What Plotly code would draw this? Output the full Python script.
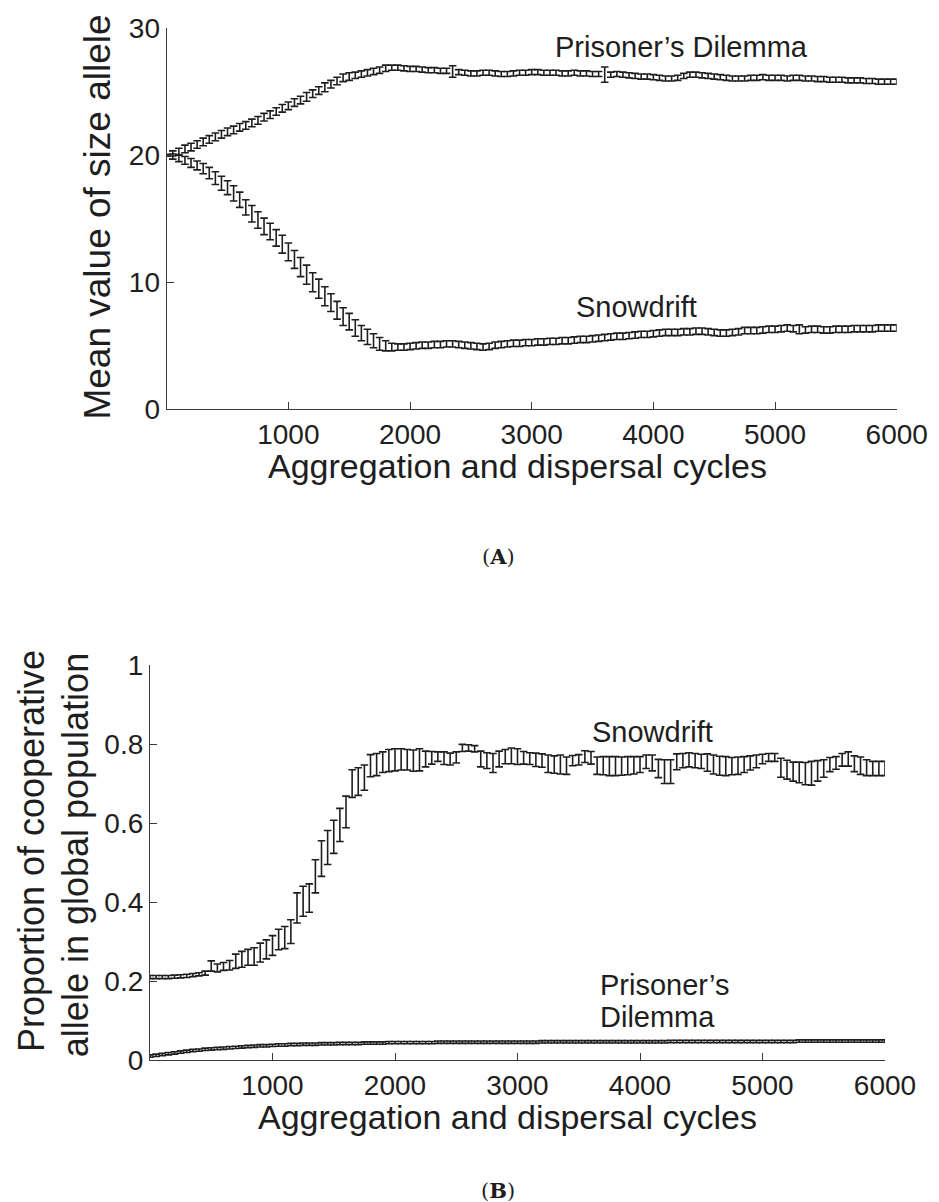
import plotly.graph_objects as go

# Sampling points (aggregation and dispersal cycles)
cycles = list(range(0, 6001, 50))

# Panel A: mean value of the size allele
size_pd = [
    20.0, 20.15, 20.3, 20.5, 20.65, 20.85, 21.05, 21.25, 21.45, 21.65,
    21.85, 22.0, 22.2, 22.35, 22.55, 22.75, 23.0, 23.2, 23.45, 23.7,
    23.9, 24.15, 24.35, 24.6, 24.85, 25.1, 25.35, 25.6, 25.85, 26.1,
    26.2, 26.3, 26.4, 26.5, 26.6, 26.7, 26.85, 26.9, 26.9, 26.85,
    26.8, 26.8, 26.75, 26.7, 26.7, 26.65, 26.65, 26.6, 26.55, 26.5,
    26.45, 26.45, 26.5, 26.5, 26.45, 26.4, 26.4, 26.45, 26.5, 26.5,
    26.55, 26.55, 26.5, 26.5, 26.5, 26.45, 26.45, 26.5, 26.45, 26.45,
    26.4, 26.4, 26.35, 26.35, 26.4, 26.35, 26.3, 26.25, 26.2, 26.2,
    26.15, 26.1, 26.05, 26.05, 26.1, 26.25, 26.35, 26.35, 26.3, 26.25,
    26.2, 26.15, 26.1, 26.05, 26.05, 26.05, 26.1, 26.1, 26.15, 26.1,
    26.1, 26.1, 26.05, 26.1, 26.1, 26.05, 26.05, 26.0, 26.0, 25.95,
    25.95, 25.95, 25.9, 25.9, 25.9, 25.85, 25.85, 25.8, 25.8, 25.8,
    25.8,
]
size_pd_err = [
    0.05, 0.2, 0.25, 0.3, 0.3, 0.3, 0.3, 0.3, 0.3, 0.3,
    0.3, 0.3, 0.3, 0.3, 0.3, 0.3, 0.3, 0.3, 0.3, 0.3,
    0.3, 0.3, 0.3, 0.35, 0.3, 0.3, 0.35, 0.3, 0.3, 0.3,
    0.3, 0.25, 0.25, 0.25, 0.25, 0.25, 0.25, 0.2, 0.2, 0.2,
    0.2, 0.2, 0.2, 0.2, 0.2, 0.2, 0.2, 0.45, 0.2, 0.2,
    0.2, 0.2, 0.2, 0.2, 0.2, 0.2, 0.2, 0.2, 0.2, 0.2,
    0.2, 0.2, 0.2, 0.2, 0.2, 0.2, 0.2, 0.2, 0.2, 0.2,
    0.2, 0.2, 0.6, 0.2, 0.2, 0.2, 0.2, 0.2, 0.2, 0.2,
    0.2, 0.2, 0.2, 0.2, 0.2, 0.2, 0.2, 0.2, 0.2, 0.2,
    0.2, 0.2, 0.2, 0.2, 0.2, 0.2, 0.2, 0.2, 0.2, 0.2,
    0.2, 0.2, 0.2, 0.2, 0.2, 0.2, 0.2, 0.2, 0.2, 0.2,
    0.2, 0.2, 0.2, 0.2, 0.2, 0.2, 0.2, 0.2, 0.2, 0.2,
    0.2,
]
size_sd = [
    20.0, 19.9, 19.75, 19.6, 19.4, 19.2, 18.95, 18.6, 18.2, 17.8,
    17.45, 17.0, 16.5, 15.9, 15.4, 14.9, 14.4, 14.0, 13.5, 13.0,
    12.4, 11.8, 11.2, 10.6, 10.0, 9.5, 8.9, 8.4, 7.8, 7.3,
    6.9, 6.4, 6.0, 5.7, 5.4, 5.15, 5.0, 4.9, 4.9, 4.9,
    4.95, 5.0, 5.05, 5.05, 5.1, 5.1, 5.15, 5.15, 5.1, 5.05,
    5.0, 4.95, 4.9, 4.95, 5.05, 5.1, 5.15, 5.2, 5.2, 5.25,
    5.25, 5.3, 5.3, 5.35, 5.35, 5.4, 5.4, 5.45, 5.5, 5.5,
    5.55, 5.6, 5.65, 5.7, 5.75, 5.75, 5.8, 5.85, 5.9, 5.9,
    5.95, 6.0, 6.05, 6.05, 6.05, 6.1, 6.1, 6.15, 6.15, 6.1,
    6.05, 6.0, 6.0, 6.05, 6.1, 6.2, 6.2, 6.2, 6.25, 6.3,
    6.3, 6.35, 6.4, 6.35, 6.3, 6.25, 6.3, 6.3, 6.25, 6.25,
    6.3, 6.3, 6.3, 6.35, 6.35, 6.35, 6.35, 6.4, 6.4, 6.4,
    6.4,
]
size_sd_err = [
    0.05, 0.2, 0.25, 0.3, 0.35, 0.35, 0.4, 0.45, 0.5, 0.55,
    0.55, 0.6, 0.6, 0.6, 0.65, 0.65, 0.65, 0.65, 0.65, 0.7,
    0.7, 0.7, 0.75, 0.75, 0.75, 0.75, 0.75, 0.7, 0.7, 0.7,
    0.65, 0.65, 0.6, 0.6, 0.55, 0.5, 0.4, 0.3, 0.25, 0.25,
    0.25, 0.25, 0.25, 0.25, 0.25, 0.25, 0.25, 0.25, 0.25, 0.25,
    0.25, 0.25, 0.25, 0.25, 0.25, 0.25, 0.25, 0.25, 0.25, 0.25,
    0.25, 0.25, 0.25, 0.25, 0.25, 0.25, 0.25, 0.25, 0.25, 0.25,
    0.25, 0.25, 0.25, 0.25, 0.25, 0.25, 0.25, 0.25, 0.25, 0.25,
    0.25, 0.25, 0.25, 0.25, 0.25, 0.25, 0.25, 0.25, 0.25, 0.25,
    0.25, 0.25, 0.25, 0.25, 0.25, 0.25, 0.25, 0.25, 0.25, 0.25,
    0.25, 0.25, 0.25, 0.25, 0.35, 0.25, 0.25, 0.25, 0.25, 0.25,
    0.25, 0.25, 0.25, 0.25, 0.25, 0.25, 0.25, 0.25, 0.25, 0.25,
    0.25,
]

# Panel B: proportion of the cooperative allele in the global population
coop_sd = [
    0.21, 0.21, 0.21, 0.21, 0.211, 0.212, 0.213, 0.215, 0.217, 0.22,
    0.238, 0.233, 0.237, 0.24, 0.25, 0.255, 0.26, 0.262, 0.272, 0.28,
    0.29, 0.305, 0.31, 0.325, 0.385, 0.402, 0.41, 0.465, 0.51, 0.538,
    0.565, 0.595, 0.628, 0.7, 0.705, 0.715, 0.745, 0.748, 0.754, 0.758,
    0.76, 0.761, 0.76, 0.758, 0.76, 0.762, 0.765, 0.768, 0.764, 0.762,
    0.766, 0.79, 0.79, 0.788, 0.762, 0.758, 0.752, 0.762, 0.768, 0.77,
    0.768, 0.765, 0.763, 0.76, 0.758, 0.75, 0.748, 0.748, 0.745, 0.758,
    0.76, 0.768, 0.765, 0.745, 0.745, 0.744, 0.744, 0.744, 0.745, 0.746,
    0.748, 0.755, 0.752, 0.738, 0.73, 0.73, 0.755, 0.758, 0.76, 0.758,
    0.756, 0.753, 0.748, 0.745, 0.744, 0.744, 0.745, 0.748, 0.752, 0.756,
    0.762, 0.766, 0.766, 0.74, 0.735, 0.73, 0.728, 0.725, 0.726, 0.732,
    0.738, 0.748, 0.752, 0.76, 0.762, 0.75, 0.745, 0.74, 0.738, 0.738,
    0.738,
]
coop_sd_err = [
    0.004, 0.004, 0.004, 0.004, 0.004, 0.004, 0.004, 0.004, 0.004, 0.005,
    0.013, 0.01, 0.01, 0.012, 0.018, 0.02, 0.02, 0.022, 0.024, 0.024,
    0.025, 0.026, 0.028, 0.03, 0.038, 0.038, 0.036, 0.042, 0.045, 0.043,
    0.042, 0.042, 0.04, 0.035, 0.035, 0.032, 0.028, 0.028, 0.026, 0.028,
    0.028, 0.027, 0.026, 0.027, 0.028, 0.02, 0.016, 0.012, 0.016, 0.015,
    0.014, 0.009, 0.008, 0.008, 0.02, 0.02, 0.024, 0.02, 0.018, 0.02,
    0.02, 0.016, 0.015, 0.017, 0.017, 0.022, 0.022, 0.024, 0.022, 0.013,
    0.013, 0.015, 0.016, 0.022, 0.023, 0.024, 0.024, 0.023, 0.023, 0.022,
    0.02, 0.017, 0.02, 0.023, 0.03, 0.03, 0.02, 0.018, 0.018, 0.018,
    0.018, 0.022, 0.024, 0.024, 0.024, 0.022, 0.022, 0.02, 0.018, 0.016,
    0.012, 0.01, 0.01, 0.024, 0.024, 0.024, 0.026, 0.028, 0.03, 0.026,
    0.022, 0.018, 0.016, 0.016, 0.018, 0.02, 0.022, 0.02, 0.018, 0.018,
    0.018,
]
coop_pd = [
    0.010, 0.012, 0.014, 0.016, 0.018, 0.020, 0.022, 0.024, 0.025, 0.027,
    0.028, 0.029, 0.030, 0.031, 0.032, 0.033, 0.034, 0.035, 0.036, 0.036,
    0.037, 0.038, 0.038, 0.039, 0.039, 0.040, 0.040, 0.040, 0.041, 0.041,
    0.041, 0.042, 0.042, 0.042, 0.042, 0.043, 0.043, 0.043, 0.043, 0.044,
    0.044, 0.044, 0.044, 0.044, 0.044, 0.044, 0.044, 0.045, 0.045, 0.045,
    0.045, 0.045, 0.045, 0.045, 0.045, 0.045, 0.045, 0.045, 0.045, 0.045,
    0.045, 0.045, 0.045, 0.045, 0.046, 0.046, 0.046, 0.046, 0.046, 0.046,
    0.046, 0.046, 0.046, 0.046, 0.046, 0.046, 0.046, 0.046, 0.046, 0.046,
    0.046, 0.046, 0.046, 0.046, 0.046, 0.047, 0.047, 0.047, 0.047, 0.047,
    0.047, 0.047, 0.047, 0.047, 0.047, 0.047, 0.047, 0.047, 0.047, 0.047,
    0.047, 0.047, 0.047, 0.047, 0.047, 0.047, 0.048, 0.048, 0.048, 0.048,
    0.048, 0.048, 0.048, 0.048, 0.048, 0.048, 0.048, 0.048, 0.048, 0.048,
    0.048,
]
coop_pd_err = [0.003] * len(cycles)

assert all(len(s) == len(cycles) for s in
           (size_pd, size_pd_err, size_sd, size_sd_err,
            coop_sd, coop_sd_err, coop_pd, coop_pd_err))

size_ticks = [0, 10, 20, 30]
coop_ticks = [0, 0.2, 0.4, 0.6, 0.8, 1]
coop_tick_text = ["0", "0.2", "0.4", "0.6", "0.8", "1"]
cycle_ticks = [1000, 2000, 3000, 4000, 5000, 6000]

W, H = 939, 1202
INK = "#1e1e1e"
AXIS = "#3a3a3a"
SANS = "Liberation Sans, Arial, Helvetica, sans-serif"


def px_x(p):
    return p / W


def px_y(p):
    return 1 - p / H


def errorbar_trace(x, y, err, xa, ya):
    return go.Scatter(
        x=x, y=y, mode="markers", xaxis=xa, yaxis=ya,
        marker=dict(size=1, color="rgba(0,0,0,0)"),
        error_y=dict(type="data", array=err, visible=True,
                     color=INK, thickness=1.6, width=3.8),
        showlegend=False, hoverinfo="skip",
    )


def title_holder(xa, ya):
    # empty trace so the title-only axis gets its own subplot
    return go.Scatter(x=[], y=[], xaxis=xa, yaxis=ya, mode="markers",
                      showlegend=False, hoverinfo="skip")


fig = go.Figure()
fig.add_trace(errorbar_trace(cycles, size_pd, size_pd_err, "x", "y"))
fig.add_trace(errorbar_trace(cycles, size_sd, size_sd_err, "x", "y"))
fig.add_trace(errorbar_trace(cycles, coop_sd, coop_sd_err, "x2", "y2"))
fig.add_trace(errorbar_trace(cycles, coop_pd, coop_pd_err, "x2", "y2"))
fig.add_trace(title_holder("x", "y3"))
fig.add_trace(title_holder("x2", "y4"))
fig.add_trace(title_holder("x2", "y5"))

axis_common = dict(
    showline=True, linecolor=AXIS, linewidth=1.2, mirror=False,
    ticks="inside", ticklen=7, tickwidth=1.1, tickcolor=AXIS,
    showgrid=False, zeroline=False, automargin=False,
    tickfont=dict(family=SANS, size=28, color=INK),
)


def title_axis(text, size, anchor_x, center_y):
    # Title-only vertical axis: no line, ticks or labels, just the rotated title
    return dict(
        domain=[px_y(center_y + 150), px_y(center_y - 150)],
        anchor="free", position=px_x(anchor_x), side="left",
        showline=False, ticks="", showticklabels=False, showgrid=False,
        zeroline=False, automargin=False, fixedrange=True,
        title=dict(text=text, standoff=0,
                   font=dict(family=SANS, size=size, color=INK)),
    )


fig.update_layout(
    width=W, height=H, autosize=False,
    margin=dict(l=0, r=0, t=0, b=0, pad=0),
    paper_bgcolor="white", plot_bgcolor="rgba(0,0,0,0)",
    xaxis=dict(domain=[px_x(166.7), px_x(896.7)], range=[0, 6000],
               tickvals=cycle_ticks, anchor="y", **axis_common),
    yaxis=dict(domain=[px_y(409.3), px_y(28.3)], range=[0, 30],
               tickvals=size_ticks, anchor="x", **axis_common),
    xaxis2=dict(domain=[px_x(150), px_x(885)], range=[0, 6000],
                tickvals=cycle_ticks, anchor="y2", **axis_common),
    yaxis2=dict(domain=[px_y(1060), px_y(665)], range=[0, 1],
                tickvals=coop_ticks, ticktext=coop_tick_text,
                anchor="x2", **axis_common),
    yaxis3=title_axis("Mean value of size allele", 37, 123, 217),
    yaxis4=title_axis("Proportion of cooperative", 36, 57, 851),
    yaxis5=title_axis("allele in global population", 36, 101, 855),
)


def label(text, x, y, size, xanchor="center", family=SANS):
    fig.add_annotation(
        text=text, x=px_x(x), y=px_y(y), xref="paper", yref="paper",
        xanchor=xanchor, yanchor="middle", showarrow=False,
        font=dict(family=family, size=size, color=INK),
    )


# Horizontal axis titles
label("Aggregation and dispersal cycles", 517, 466, 34)
label("Aggregation and dispersal cycles", 507, 1117, 34)

# Series labels
label("Prisoner’s Dilemma", 681, 47, 29)
label("Snowdrift", 636, 307, 29)
label("Snowdrift", 652, 732, 29)
label("Prisoner’s", 598, 985, 29, xanchor="left")
label("Dilemma", 598, 1017, 29, xanchor="left")

# Panel captions
SERIF = "DejaVu Serif, Liberation Serif, serif"
label("(<b>A</b>)", 498, 556, 21, family=SERIF)
label("(<b>B</b>)", 498, 1190, 21, family=SERIF)

fig.write_html(
    "out.html",
    config={"displayModeBar": False},
    post_script=(
        "document.documentElement.style.margin='0';"
        "document.body.style.margin='0';"
    ),
)
